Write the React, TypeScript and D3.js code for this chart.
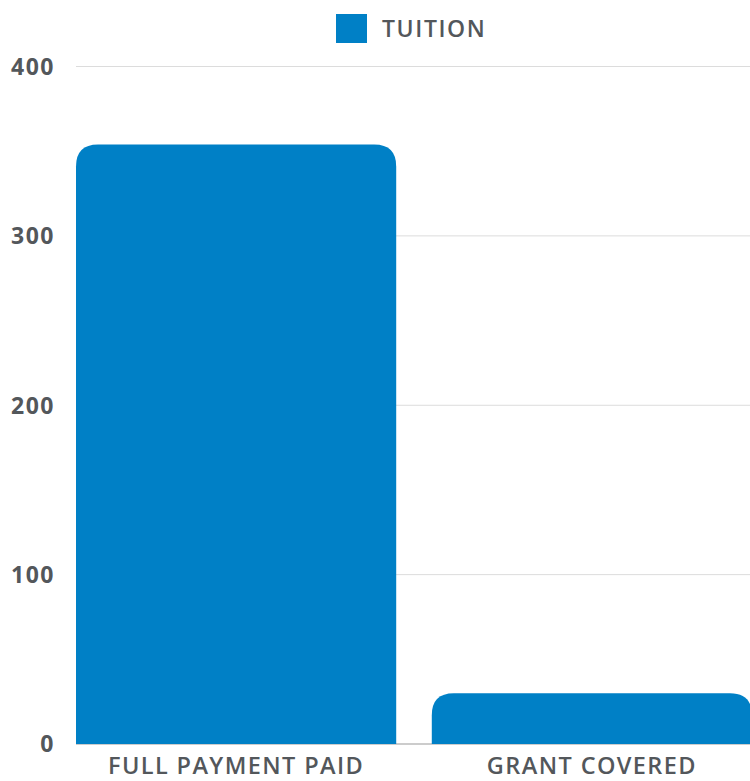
import { useEffect, useRef } from "react"
import * as d3 from "d3"

const categories = ["FULL PAYMENT PAID", "GRANT COVERED"]
const tuition = [354, 30]
const yTicks = [0, 100, 200, 300, 400]
const seriesName = "TUITION"

const W = 750
const H = 781
const BLUE = "#0080c6"
const TEXT = "#53575b"
const FONT = "'Open Sans', Roboto, sans-serif"

export default function App() {
  const svgRef = useRef<SVGSVGElement>(null)

  useEffect(() => {
    if (!svgRef.current) return
    const svg = d3.select(svgRef.current)
    svg.selectAll("*").remove()

    const left = 76
    // plot runs a little past the right edge, so the second bar is clipped like the source
    const x = d3.scaleBand<string>().domain(categories).range([left, 752]).paddingInner(0.1).paddingOuter(0)
    const y = d3.scaleLinear().domain([0, 400]).range([744, 66.5])

    // gridlines
    svg.append("g")
      .selectAll("line")
      .data(yTicks.filter((t) => t > 0))
      .join("line")
      .attr("x1", left)
      .attr("x2", W)
      .attr("y1", (d) => y(d))
      .attr("y2", (d) => y(d))
      .attr("stroke", "#dcdcdc")
      .attr("stroke-width", 1)

    // baseline
    svg.append("line")
      .attr("x1", left).attr("x2", W)
      .attr("y1", y(0)).attr("y2", y(0))
      .attr("stroke", "#999").attr("stroke-width", 1)

    // y tick labels
    svg.append("g")
      .selectAll("text")
      .data(yTicks)
      .join("text")
      .attr("x", 55)
      .attr("y", (d) => y(d))
      .attr("dy", "0.36em")
      .attr("text-anchor", "end")
      .attr("font-family", FONT)
      .attr("font-weight", 700)
      .attr("font-size", 23)
      .attr("letter-spacing", 1.5)
      .attr("fill", TEXT)
      .text((d) => d)

    // bars with rounded top corners
    const r = 22
    const barPath = (x0: number, w: number, top: number, bottom: number) => {
      const rr = Math.min(r, bottom - top, w / 2)
      return `M${x0},${bottom}V${top + rr}Q${x0},${top} ${x0 + rr},${top}H${x0 + w - rr}Q${x0 + w},${top} ${x0 + w},${top + rr}V${bottom}Z`
    }
    svg.append("g")
      .selectAll("path")
      .data(categories)
      .join("path")
      .attr("d", (c, i) => barPath(x(c)!, x.bandwidth(), y(tuition[i]), y(0)))
      .attr("fill", BLUE)

    // category labels
    svg.append("g")
      .selectAll("text")
      .data(categories)
      .join("text")
      .attr("x", (c) => x(c)! + x.bandwidth() / 2)
      .attr("y", 774)
      .attr("text-anchor", "middle")
      .attr("font-family", FONT)
      .attr("font-weight", 600)
      .attr("font-size", 23.5)
      .attr("letter-spacing", 1.4)
      .attr("fill", TEXT)
      .text((c) => c)

    // legend
    const lg = svg.append("g")
    lg.append("rect").attr("x", 336).attr("y", 14).attr("width", 31).attr("height", 29).attr("fill", BLUE)
    lg.append("text")
      .attr("x", 382)
      .attr("y", 28.5)
      .attr("dy", "0.36em")
      .attr("font-family", FONT)
      .attr("font-weight", 600)
      .attr("font-size", 23)
      .attr("letter-spacing", 1.6)
      .attr("fill", TEXT)
      .text(seriesName)
  }, [])

  return (
    <svg
      ref={svgRef}
      width={W}
      height={H}
      style={{ position: "absolute", top: 0, left: 0, background: "#fff" }}
    />
  )
}
